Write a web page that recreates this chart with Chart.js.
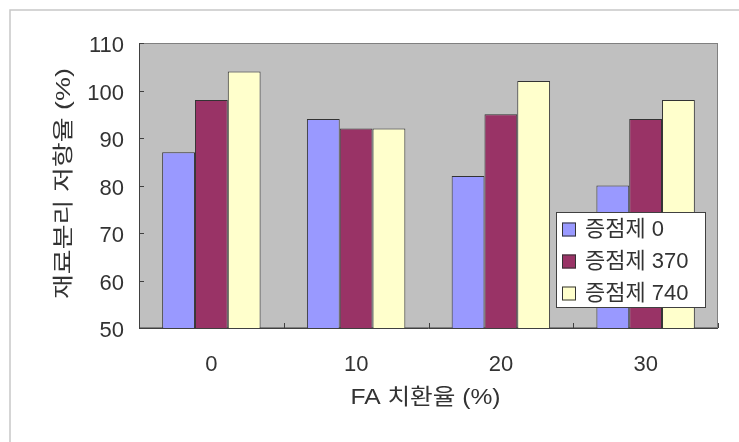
<!DOCTYPE html>
<html>
<head>
<meta charset="utf-8">
<script src="https://cdn.jsdelivr.net/npm/chart.js@4/dist/chart.umd.min.js"></script>
<style>
  html, body { margin: 0; padding: 0; background: #ffffff; }
  #wrap { position: relative; width: 739px; height: 442px; }
</style>
</head>
<body>
<div id="wrap"><canvas id="chart"></canvas></div>
<script>
// FA replacement ratio (%) on the x axis
const categories = ['0', '10', '20', '30'];
// Segregation resistance (%) for each thickener dosage
const seriesLabels = ['증점제 0', '증점제 370', '증점제 740'];
const thickener0 = [87, 94, 82, 80];
const thickener370 = [98, 92, 95, 94];
const thickener740 = [104, 92, 102, 98];
const seriesColors = ['#9999FF', '#993366', '#FFFFCC'];
const xTitle = 'FA 치환율 (%)';
const yTitle = '재료분리 저항율 (%)';
const yMin = 50, yMax = 110, yStep = 10;

const FONT = "'Liberation Sans', 'Noto Sans CJK KR', Arial, sans-serif";
const TEXT_COLOR = '#333333';

// Draws text centred at (cx, cy), stretched along its direction to a given length
function stretchedText(ctx, text, cx, cy, length, angle) {
  ctx.save();
  ctx.translate(cx, cy);
  ctx.rotate(angle);
  const w = ctx.measureText(text).width;
  ctx.scale(length / w, 1);
  ctx.textAlign = 'center';
  ctx.textBaseline = 'middle';
  ctx.fillText(text, 0, 0);
  ctx.restore();
}

const decor = {
  id: 'decor',
  beforeDraw(chart) {
    const { ctx, chartArea: a } = chart;
    ctx.save();
    // outer frame
    ctx.strokeStyle = '#c8c8c8';
    ctx.lineWidth = 1.5;
    ctx.beginPath();
    ctx.moveTo(10, chart.height);
    ctx.lineTo(10, 10);
    ctx.lineTo(chart.width, 10);
    ctx.stroke();
    // plot area background
    ctx.fillStyle = '#C0C0C0';
    ctx.fillRect(a.left, a.top, a.right - a.left, a.bottom - a.top);
    ctx.strokeStyle = '#808080';
    ctx.lineWidth = 1;
    ctx.strokeRect(a.left + 0.5, a.top + 0.5, a.right - a.left - 1, a.bottom - a.top - 1);
    ctx.restore();
  },
  afterDatasetsDraw(chart) {
    const { ctx, chartArea: a, scales } = chart;
    const xs = scales.x, ys = scales.y;
    ctx.save();
    // axis lines
    ctx.strokeStyle = '#404040';
    ctx.lineWidth = 1;
    ctx.beginPath();
    ctx.moveTo(a.left + 0.5, a.top);
    ctx.lineTo(a.left + 0.5, a.bottom + 0.5);
    ctx.lineTo(a.right, a.bottom + 0.5);
    ctx.stroke();
    // inward tick marks on the value axis
    ctx.beginPath();
    ys.ticks.forEach(t => {
      const y = Math.round(ys.getPixelForValue(t.value)) + 0.5;
      ctx.moveTo(a.left, y);
      ctx.lineTo(a.left + 5, y);
    });
    // inward tick marks between categories
    for (let i = 0; i <= categories.length; i++) {
      let x;
      if (i === 0) x = a.left;
      else if (i === categories.length) x = a.right;
      else x = (xs.getPixelForValue(i - 1) + xs.getPixelForValue(i)) / 2;
      x = Math.round(x) + 0.5;
      ctx.moveTo(x, a.bottom);
      ctx.lineTo(x, a.bottom - 5);
    }
    ctx.stroke();

    // legend
    const lx = 556, ly = 212, lw = 149, lh = 95;
    ctx.fillStyle = '#ffffff';
    ctx.fillRect(lx, ly, lw, lh);
    ctx.strokeStyle = '#404040';
    ctx.strokeRect(lx + 0.5, ly + 0.5, lw, lh);
    ctx.font = '22px ' + FONT;
    ctx.textAlign = 'left';
    ctx.textBaseline = 'middle';
    chart.data.datasets.forEach((ds, i) => {
      const cy = 229.5 + i * 32;
      ctx.fillStyle = ds.backgroundColor;
      ctx.fillRect(562, cy - 7, 14, 14);
      ctx.strokeStyle = '#333333';
      ctx.strokeRect(562.5, cy - 6.5, 13, 13);
      ctx.fillStyle = TEXT_COLOR;
      ctx.fillText(ds.label, 585, cy);
    });

    // axis titles
    ctx.fillStyle = TEXT_COLOR;
    ctx.font = '21px ' + FONT;
    stretchedText(ctx, yTitle, 64, (a.top + a.bottom) / 2 - 2, 231, -Math.PI / 2);
    ctx.font = '22px ' + FONT;
    stretchedText(ctx, xTitle, (a.left + a.right) / 2 - 3, 398, 150, 0);
    ctx.restore();
  }
};

new Chart(document.getElementById('chart'), {
  type: 'bar',
  data: {
    labels: categories,
    datasets: [thickener0, thickener370, thickener740].map((vals, i) => ({
      label: seriesLabels[i],
      data: vals,
      backgroundColor: seriesColors[i],
      borderColor: '#333333',
      borderWidth: 1,
      categoryPercentage: 0.68,
      barPercentage: 1.0
    }))
  },
  options: {
    responsive: true,
    maintainAspectRatio: false,
    animation: false,
    layout: { padding: { left: 0, top: 43, right: 21, bottom: 0 } },
    plugins: { legend: { display: false }, tooltip: { enabled: false } },
    scales: {
      x: {
        grid: { display: false, drawTicks: false },
        border: { display: false },
        ticks: { color: TEXT_COLOR, font: { family: FONT, size: 22 }, padding: 24 },
        afterFit(scale) { scale.height = 114; }
      },
      y: {
        min: yMin, max: yMax,
        grid: { display: false, drawTicks: false },
        border: { display: false },
        ticks: { stepSize: yStep, color: TEXT_COLOR, font: { family: FONT, size: 22 }, padding: 15, labelOffset: 3 },
        afterFit(scale) { scale.width = 139; }
      }
    }
  },
  plugins: [decor]
});
</script>
</body>
</html>
